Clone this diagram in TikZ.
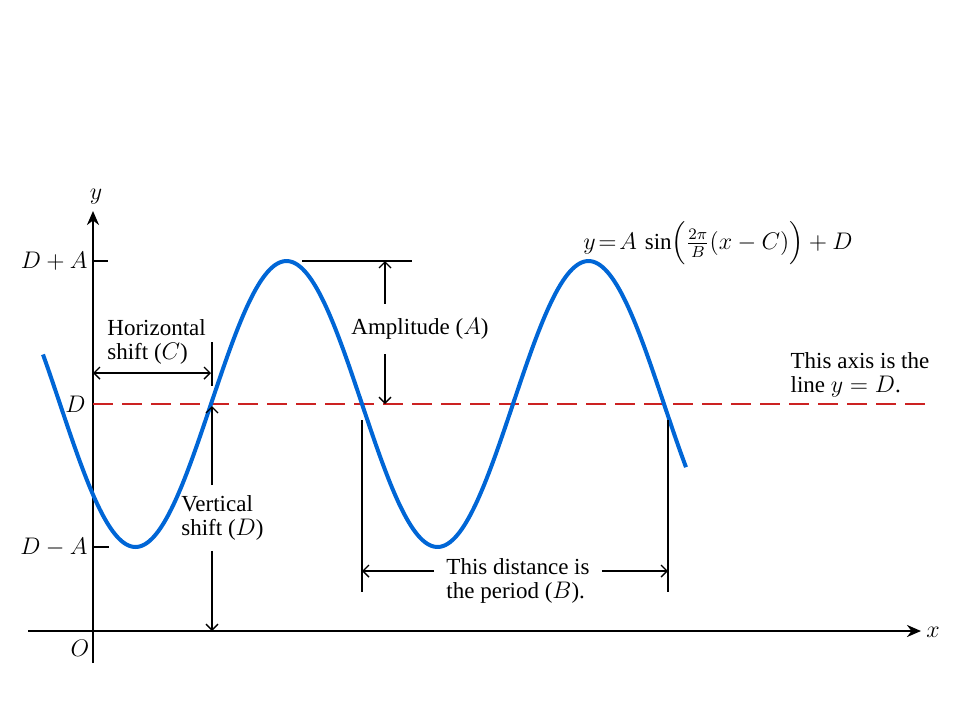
\documentclass[tikz,border=0pt]{standalone}
\usepackage{amsmath}
\usepackage{fontspec}
\setmainfont{Liberation Serif}
\usepackage{tikz}
\usetikzlibrary{calc}
\usetikzlibrary{arrows.meta}
\tikzset{>={Straight Barb[length=3pt,width=6pt]}}
\definecolor{sineblue}{RGB}{0,102,214}
\definecolor{axisred}{RGB}{204,34,34}
\tikzset{
  axisline/.style={line width=1.4pt, -{Stealth[length=7pt,width=6pt]}},
  dimline/.style={line width=0.7pt},
  barline/.style={line width=1pt},
  lbl/.style={font=\fontsize{11.5}{12}\selectfont, inner sep=0pt},
  sinecurve/.style={sineblue, line width=2pt},
  midline/.style={axisred, line width=1pt, dash pattern=on 10pt off 4.5pt}
}

\begin{document}
\begin{tikzpicture}[x=0.5pt, y=-0.5pt]
    \useasboundingbox (0,0) rectangle (960,720);

    % axes
    \coordinate (xstart) at (28,631);
    \coordinate (xend) at (921,631);
    \coordinate (ybot) at (93,663);
    \coordinate (ytop) at (93,211);
    \draw[axisline] (xstart) -- (xend);
    \draw[axisline] (ybot) -- (ytop);
    \node[lbl] (xlab) at (933,632) {$x$};
    \node[lbl] (ylab) at (96,197) {$y$};
    \node[lbl] (Olab) at (80,648) {$O$};

    % levels on the y axis
    \coordinate (DAtop) at (93,261);
    \coordinate (Dmid) at (93,404);
    \coordinate (DAbot) at (93,547);
    \coordinate (DAtopR) at (108,261);
    \coordinate (DAbotR) at (109,547);
    \draw[barline] (DAtop) -- (DAtopR);
    \draw[barline] (DAbot) -- (DAbotR);
    \node[lbl, anchor=east] (DAtoplab) at (88,261) {$D + A$};
    \node[lbl, anchor=east] (Dlab) at (86,404) {$D$};
    \node[lbl, anchor=east] (DAbotlab) at (88,547) {$D - A$};

    % the line y = D
    \coordinate (Dend) at (934,404);
    \draw[midline] (Dmid) -- (Dend);
    \node[lbl, align=left] (axistext) at (860,375) {This axis is the\\line $y = D$.};

    % the curve
    \draw[sinecurve] plot[domain=43:686, samples=140, smooth]
        (\x, {404-143*sin(1.19205*(\x-211))});
    \node[lbl] (eqn) at (718,243)
        {$y\mkern2mu{=}\mkern2mu A\,\sin\Bigl(\tfrac{2\pi}{B}(x - C)\Bigr) + D$};

    % horizontal shift
    \coordinate (hsL) at (93,373);
    \coordinate (hsR) at (211,373);
    \coordinate (hsbarT) at (212,342);
    \coordinate (hsbarB) at (212,386);
    \draw[barline] (hsbarT) -- (hsbarB);
    \draw[dimline, <->] (hsL) -- (hsR);
    \node[lbl, align=left, anchor=west] (hstext) at (107,342) {Horizontal\\shift ($C$)};

    % vertical shift
    \coordinate (vsT) at (212,406);
    \coordinate (vsB) at (212,631);
    \node[lbl, align=left, anchor=west, inner ysep=5pt] (vstext) at (181,518) {Vertical\\shift ($D$)};
    \draw[dimline, ->] (vstext.north -| vsT) -- (vsT);
    \draw[dimline, ->] (vstext.south -| vsB) -- (vsB);

    % amplitude
    \coordinate (ampL) at (302,261);
    \coordinate (ampR) at (412,261);
    \coordinate (ampT) at (385,261);
    \coordinate (ampB) at (385,404);
    \draw[barline] (ampL) -- (ampR);
    \node[lbl, inner ysep=7pt] (amptext) at (420,329) {Amplitude ($A$)};
    \draw[dimline, ->] (amptext.north -| ampT) -- (ampT);
    \draw[dimline, ->] (amptext.south -| ampB) -- (ampB);

    % period
    \coordinate (perLT) at (362,420);
    \coordinate (perLB) at (362,592);
    \coordinate (perRT) at (668,420);
    \coordinate (perRB) at (668,592);
    \draw[barline] (perLT) -- (perLB);
    \draw[barline] (perRT) -- (perRB);
    \coordinate (perL) at (362,571);
    \coordinate (perR) at (668,571);
    \node[lbl, align=left, inner xsep=6pt] (pertext) at (518,581) {This distance is\\the period ($B$).};
    \draw[dimline, ->] (pertext.west |- perL) -- (perL);
    \draw[dimline, ->] (pertext.east |- perR) -- (perR);
\end{tikzpicture}
\end{document}
